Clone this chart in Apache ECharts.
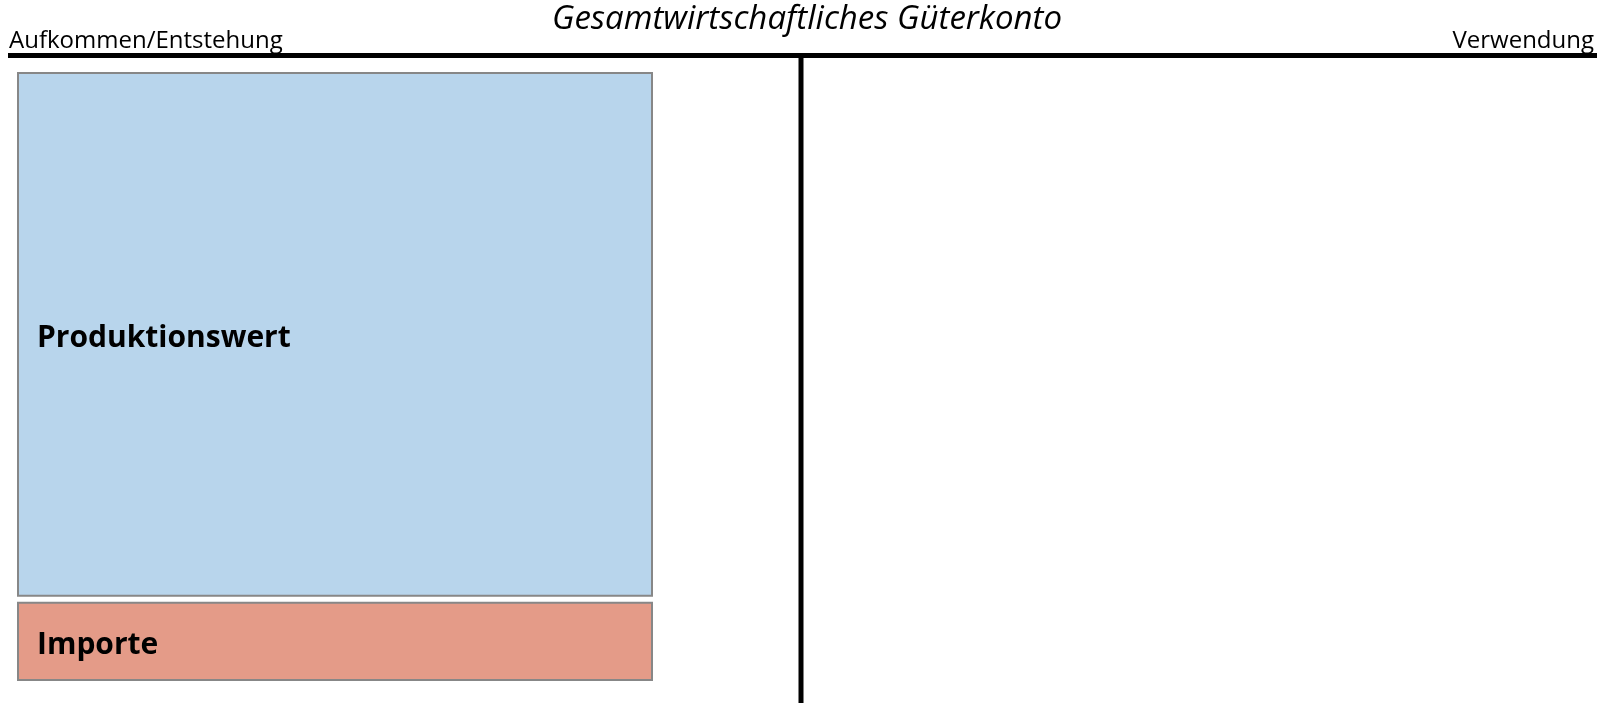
<!DOCTYPE html>
<html>
<head>
<meta charset="utf-8">
<script src="https://cdn.jsdelivr.net/npm/echarts@6/dist/echarts.min.js"></script>
<style>
  html, body { margin: 0; padding: 0; background: #fff; }
  #konto { width: 1605px; height: 703px; }
</style>
</head>
<body>
<div id="konto"></div>
<script>
// Daten des Güterkontos (Aufkommen, von unten nach oben gestapelt)
var kategorien = ['Importe', 'Produktionswert'];
var werte = [13.3, 86.7];
var farben = ['#e49b88', '#b8d5ec'];
var seite = ['Aufkommen'];

var schrift = '"Open Sans", "Noto Sans", sans-serif';

// gestapelte Start-/Endwerte aus den Werten bilden
var daten = [];
var basis = 0;
for (var i = 0; i < werte.length; i++) {
    daten.push({ name: kategorien[i], value: [seite[0], basis, basis + werte[i]], itemStyle: { color: farben[i] } });
    basis += werte[i];
}
var summe = basis;

var chart = echarts.init(document.getElementById('konto'));

var option = {
    backgroundColor: '#ffffff',
    animation: false,
    grid: { left: 18, right: 953, top: 73, bottom: 23 },
    xAxis: { type: 'category', data: seite, show: false },
    yAxis: { type: 'value', min: 0, max: summe, show: false },
    graphic: [
        // T-Konto: waagerechte und senkrechte Linie
        { type: 'line', silent: true, shape: { x1: 8, y1: 55.5, x2: 1597, y2: 55.5 }, style: { stroke: '#000', lineWidth: 5 } },
        { type: 'line', silent: true, shape: { x1: 801, y1: 55, x2: 801, y2: 703 }, style: { stroke: '#000', lineWidth: 5 } },
        { type: 'text', silent: true, style: { x: 807, y: 20, text: 'Gesamtwirtschaftliches Güterkonto', font: 'italic 33px ' + schrift, fill: '#000', align: 'center', verticalAlign: 'middle' } },
        { type: 'text', silent: true, style: { x: 9, y: 41, text: 'Aufkommen/Entstehung', font: '24px ' + schrift, fill: '#000', align: 'left', verticalAlign: 'middle' } },
        { type: 'text', silent: true, style: { x: 1594, y: 41, text: 'Verwendung', font: '24px ' + schrift, fill: '#000', align: 'right', verticalAlign: 'middle' } }
    ],
    series: [{
        type: 'custom',
        data: daten,
        encode: { x: 0, y: [1, 2] },
        renderItem: function (params, api) {
            var unten = api.coord([api.value(0), api.value(1)]);
            var oben = api.coord([api.value(0), api.value(2)]);
            var breite = api.size([1, 0])[0];
            var luecke = 3.5;
            var y0 = unten[1] - (api.value(1) > 0 ? luecke : 0);
            var y1 = oben[1] + (api.value(2) < summe ? luecke : 0);
            return {
                type: 'rect',
                shape: { x: unten[0] - breite / 2, y: y1, width: breite, height: y0 - y1 },
                style: { fill: api.visual('color'), stroke: '#878787', lineWidth: 2 },
                textContent: {
                    style: { text: kategorien[params.dataIndex], font: 'bold 30px ' + schrift, fill: '#000' }
                },
                textConfig: { position: 'insideLeft', distance: 20, offset: [0, 4] }
            };
        }
    }]
};

chart.setOption(option);
</script>
</body>
</html>
